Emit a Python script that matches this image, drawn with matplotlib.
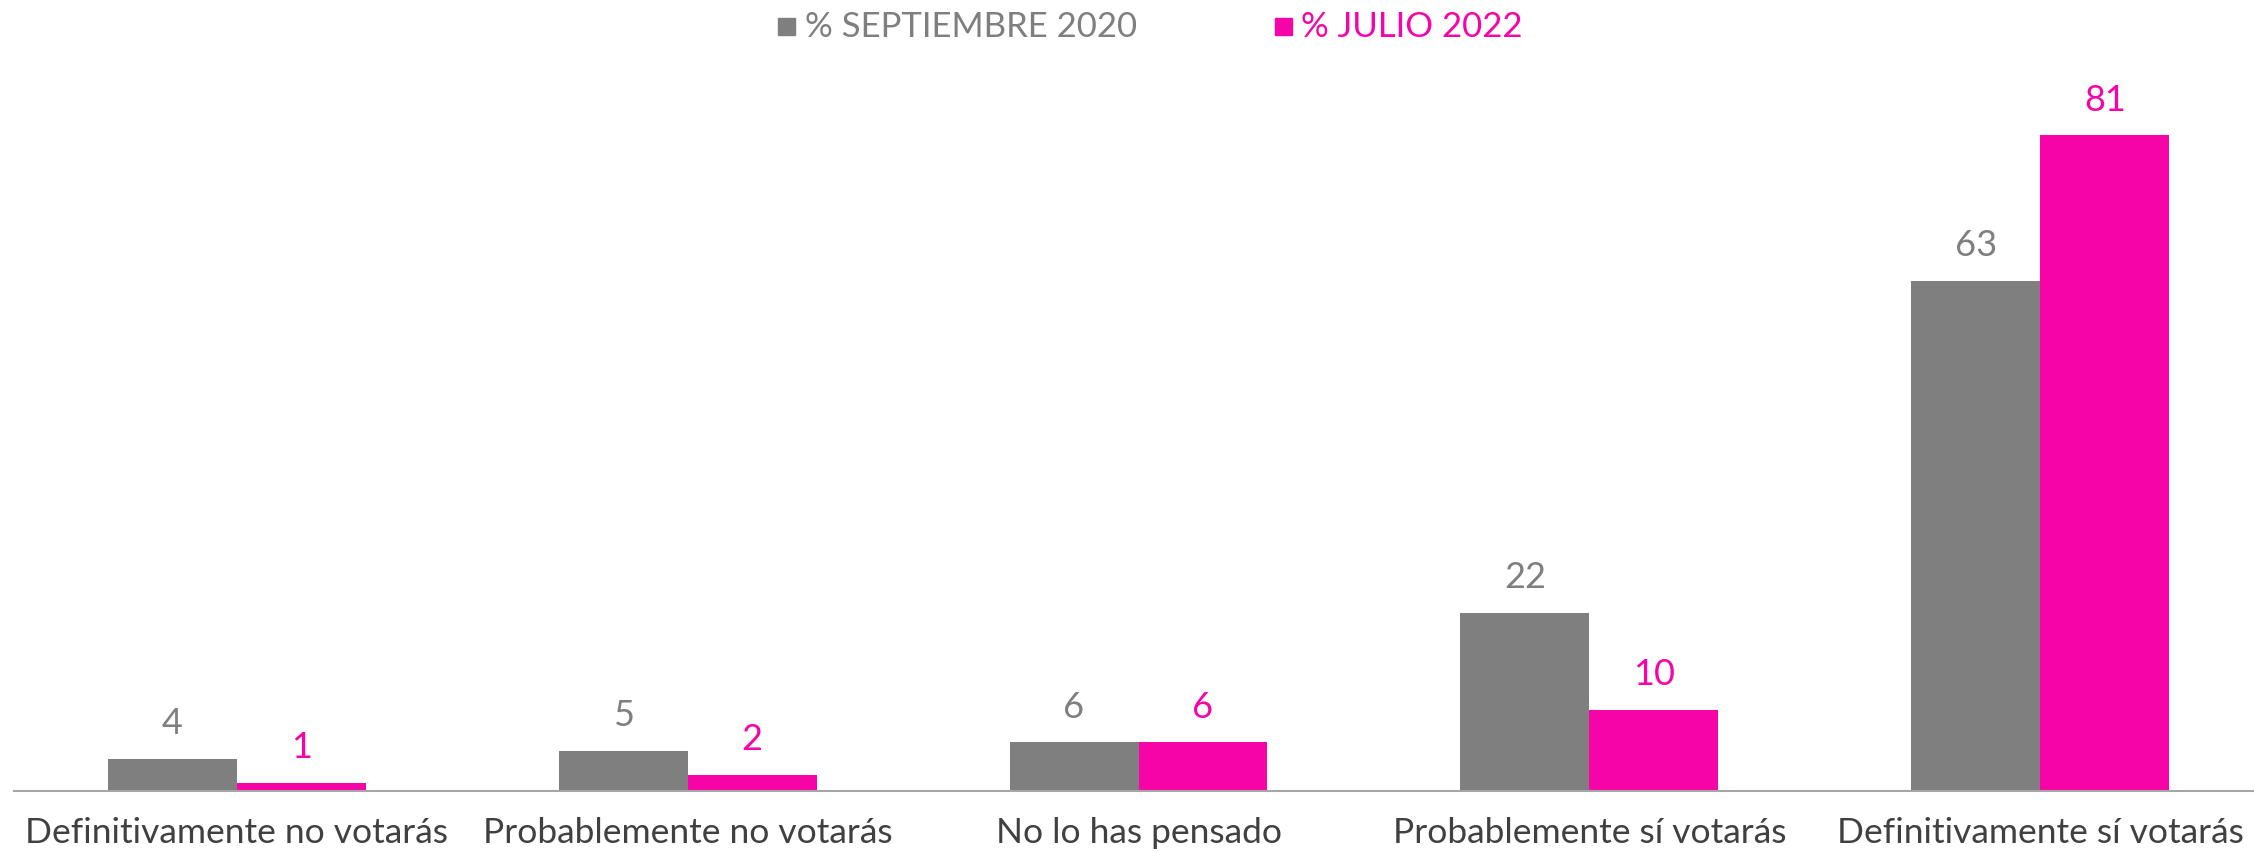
import matplotlib.pyplot as plt
from matplotlib.patches import Rectangle
import numpy as np

categories = ["Definitivamente no votarás", "Probablemente no votarás",
              "No lo has pensado", "Probablemente sí votarás",
              "Definitivamente sí votarás"]
sep_2020 = [4, 5, 6, 22, 63]
jul_2022 = [1, 2, 6, 10, 81]
series_names = ["% SEPTIEMBRE 2020", "% JULIO 2022"]

gray = "#7f7f7f"
pink = "#f704a8"

plt.rcParams["font.family"] = ["Lato", "DejaVu Sans"]

W, H = 2254, 853
fig = plt.figure(figsize=(W / 100, H / 100), dpi=100)
ax = fig.add_axes([14 / W, 61 / H, 2240 / W, 732 / H])

x = np.arange(len(categories))
w = 0.286
b1 = ax.bar(x - w / 2, sep_2020, w, color=gray)
b2 = ax.bar(x + w / 2, jul_2022, w, color=pink)

for bars, vals, col in [(b1, sep_2020, gray), (b2, jul_2022, pink)]:
    for bar, v in zip(bars, vals):
        ax.annotate(str(v), (bar.get_x() + bar.get_width() / 2, v),
                    xytext=(0, 26), textcoords="offset points",
                    ha="center", va="center", fontsize=26,
                    fontweight="normal", color=col)

ax.set_xlim(-0.494, 4.474)
ax.set_ylim(0, 90.4)
ax.set_yticks([])
ax.set_xticks(x)
ax.set_xticklabels(categories, fontsize=25.5, color="#404040")
ax.tick_params(axis="x", length=0, pad=18)
for s in ["top", "right", "left"]:
    ax.spines[s].set_visible(False)
ax.spines["bottom"].set_color("#a6a6a6")
ax.spines["bottom"].set_linewidth(1.5)

# legend: small squares + coloured text at the top
ly = 1 - 27 / H
for sx, tx, name, col in [(778, 805, series_names[0], gray),
                          (1275, 1301, series_names[1], pink)]:
    fig.patches.append(Rectangle((sx / W, ly - 8.5 / H), 17 / W, 17 / H,
                                 transform=fig.transFigure, color=col))
    fig.text(tx / W, ly, name, color=col, fontsize=25, va="center", ha="left")

fig.savefig("out.png", dpi=100)
